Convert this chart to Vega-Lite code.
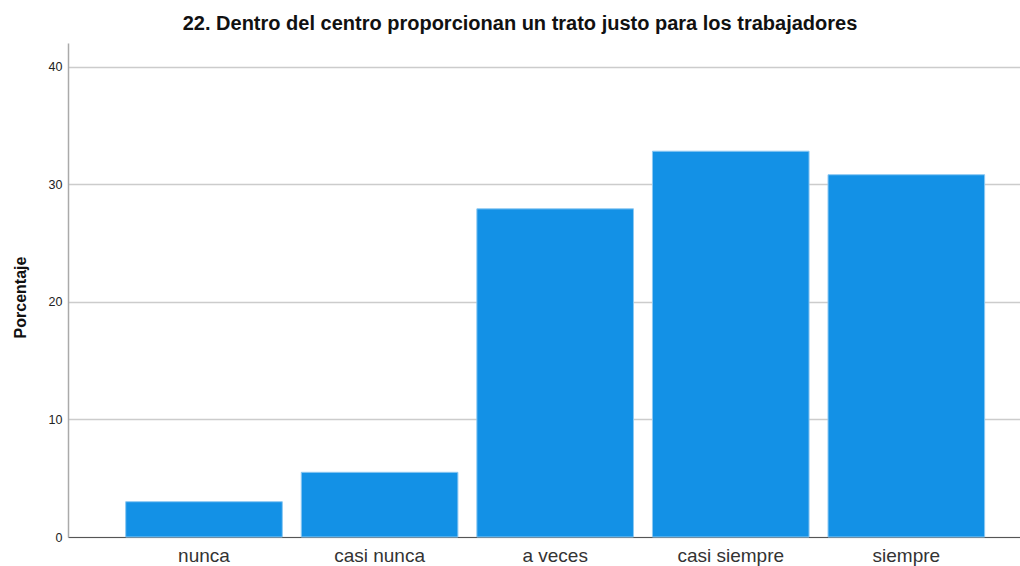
{
  "$schema": "https://vega.github.io/schema/vega-lite/v6.json",
  "autosize": {"type": "none"},
  "width": 952,
  "height": 494,
  "padding": {"left": 68, "top": 43, "right": 0, "bottom": 29},
  "background": "white",
  "title": {
    "text": "22. Dentro del centro proporcionan un trato justo para los trabajadores",
    "font": "Liberation Sans",
    "fontSize": 20,
    "fontWeight": "bold",
    "color": "#111111",
    "anchor": "middle",
    "offset": 9,
    "dx": -24
  },
  "data": {
    "values": [
      {"categoria": "nunca", "porcentaje": 3.0},
      {"categoria": "casi nunca", "porcentaje": 5.5},
      {"categoria": "a veces", "porcentaje": 27.9},
      {"categoria": "casi siempre", "porcentaje": 32.8},
      {"categoria": "siempre", "porcentaje": 30.8}
    ]
  },
  "mark": {"type": "bar", "fill": "#1391E6", "stroke": "#8cc8f2", "strokeWidth": 1},
  "encoding": {
    "x": {
      "field": "categoria",
      "type": "nominal",
      "sort": null,
      "scale": {"paddingInner": 0.108, "paddingOuter": 0.265, "align": 0.62},
      "axis": {
        "title": null,
        "labelAngle": 0,
        "labelFont": "Liberation Sans",
        "labelFontSize": 19,
        "labelColor": "#333333",
        "labelPadding": 9,
        "ticks": false,
        "domainColor": "#555555",
        "domainWidth": 1,
        "grid": false
      }
    },
    "y": {
      "field": "porcentaje",
      "type": "quantitative",
      "scale": {"domain": [0, 42], "nice": false},
      "axis": {
        "title": "Porcentaje",
        "titleFont": "Liberation Sans",
        "titleFontSize": 16,
        "titleFontWeight": "bold",
        "titleColor": "#111111",
        "titlePadding": 20,
        "titleY": 254,
        "values": [0, 10, 20, 30, 40],
        "labelFont": "Liberation Sans",
        "labelFontSize": 12.5,
        "labelColor": "#222222",
        "labelPadding": 6,
        "ticks": false,
        "domainColor": "#aaaaaa",
        "domainWidth": 1.5,
        "grid": true,
        "gridColor": "#cccccc",
        "gridWidth": 1.5
      }
    }
  },
  "config": {"view": {"stroke": null}}
}
